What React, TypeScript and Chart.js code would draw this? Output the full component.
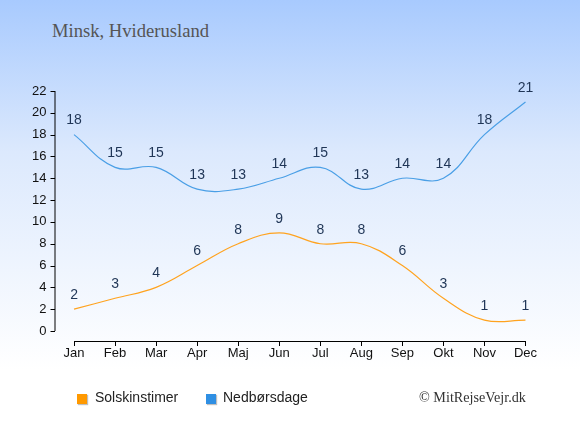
import { useEffect, useRef } from "react"
import { Chart, registerables } from "chart.js"

Chart.register(...registerables)

const months = ["Jan", "Feb", "Mar", "Apr", "Maj", "Jun", "Jul", "Aug", "Sep", "Okt", "Nov", "Dec"]
const sunHours = [2, 3, 4, 6, 8, 9, 8, 8, 6, 3, 1, 1]
const rainDays = [18, 15, 15, 13, 13, 14, 15, 13, 14, 14, 18, 21]
const yTicks = [0, 2, 4, 6, 8, 10, 12, 14, 16, 18, 20, 22]

const orange = "#ffa31f"
const blue = "#4a9fe6"

// axis lines, tick marks and value labels
const decorPlugin = {
  id: "decor",
  afterDraw(chart: any) {
    const { ctx, scales } = chart
    const x = scales.x
    const y = scales.y
    const axisX = chart.chartArea.left + 1
    const axisY = y.getPixelForValue(0) + 10
    ctx.save()
    ctx.strokeStyle = "#000"
    ctx.lineWidth = 1
    ctx.beginPath()
    ctx.moveTo(axisX + 0.5, y.getPixelForValue(22))
    ctx.lineTo(axisX + 0.5, y.getPixelForValue(0))
    yTicks.forEach((v) => {
      const py = Math.round(y.getPixelForValue(v)) + 0.5
      ctx.moveTo(axisX - 4, py)
      ctx.lineTo(axisX + 0.5, py)
    })
    const x0 = x.getPixelForValue(0)
    const x1 = x.getPixelForValue(months.length - 1)
    ctx.moveTo(x0, axisY + 0.5)
    ctx.lineTo(x1, axisY + 0.5)
    months.forEach((_, i) => {
      const px = Math.round(x.getPixelForValue(i)) + 0.5
      ctx.moveTo(px, axisY)
      ctx.lineTo(px, axisY + 5)
    })
    ctx.stroke()

    ctx.fillStyle = "#1f3556"
    ctx.font = "14px 'Liberation Sans', Arial, sans-serif"
    ctx.textAlign = "center"
    ctx.textBaseline = "bottom"
    chart.data.datasets.forEach((ds: any, di: number) => {
      const meta = chart.getDatasetMeta(di)
      meta.data.forEach((pt: any, i: number) => {
        ctx.fillText(String(ds.data[i]), pt.x, pt.y - 7)
      })
    })
    ctx.restore()
  },
}

export default function App() {
  const chartRef = useRef<HTMLCanvasElement>(null)
  const chartInstance = useRef<Chart | null>(null)

  useEffect(() => {
    document.body.style.margin = "0"
    if (chartRef.current) {
      const ctx = chartRef.current.getContext("2d")
      if (ctx) {
        if (chartInstance.current) {
          chartInstance.current.destroy()
        }
        chartInstance.current = new Chart(ctx, {
          type: "line",
          data: {
            labels: months,
            datasets: [
              {
                label: "Solskinstimer",
                data: sunHours,
                borderColor: orange,
                backgroundColor: "transparent",
                borderWidth: 1.2,
                pointRadius: 0,
                tension: 0.4,
              },
              {
                label: "Nedbørsdage",
                data: rainDays,
                borderColor: blue,
                backgroundColor: "transparent",
                borderWidth: 1.2,
                pointRadius: 0,
                tension: 0.4,
              },
            ],
          },
          options: {
            responsive: false,
            animation: false,
            layout: { padding: { top: 91, right: 34, left: 0, bottom: 0 } },
            scales: {
              x: {
                offset: true,
                grid: { display: false, drawTicks: false },
                border: { display: false },
                ticks: {
                  color: "#111",
                  padding: 15,
                  font: { size: 13, family: "'Liberation Sans', Arial, sans-serif" },
                  maxRotation: 0,
                },
                afterFit: (scale: any) => {
                  scale.height = 104
                },
              },
              y: {
                min: 0,
                max: 22,
                grid: { display: false, drawTicks: false },
                border: { display: false },
                ticks: {
                  stepSize: 2,
                  color: "#111",
                  padding: 7,
                  font: { size: 13, family: "'Liberation Sans', Arial, sans-serif" },
                },
                afterFit: (scale: any) => {
                  scale.width = 53.5
                },
              },
            },
            plugins: {
              legend: { display: false },
              tooltip: { enabled: false },
            },
          },
          plugins: [decorPlugin],
        })
      }
    }
    return () => {
      if (chartInstance.current) {
        chartInstance.current.destroy()
        chartInstance.current = null
      }
    }
  }, [])

  const legendText = {
    position: "absolute" as const,
    top: 389,
    fontFamily: "'Liberation Sans', Arial, sans-serif",
    fontSize: 14,
    color: "#222",
  }
  const square = (left: number, color: string) => ({
    position: "absolute" as const,
    left,
    top: 394,
    width: 10,
    height: 10,
    background: color,
    boxShadow: "1px 1px 1px rgba(0,0,0,0.25)",
  })

  return (
    <div
      style={{
        position: "relative",
        width: 580,
        height: 435,
        background: "linear-gradient(to bottom, #a8cafe 0%, #dce9fd 35%, #ffffff 85%)",
        overflow: "hidden",
      }}
    >
      <div
        style={{
          position: "absolute",
          left: 52,
          top: 20,
          fontFamily: "'Liberation Serif', 'Times New Roman', serif",
          fontSize: 18.6,
          color: "#555",
        }}
      >
        Minsk, Hviderusland
      </div>
      <canvas ref={chartRef} width={580} height={435} style={{ position: "absolute", left: 0, top: 0 }}></canvas>
      <div style={square(77, "#ff9900")}></div>
      <div style={{ ...legendText, left: 95 }}>Solskinstimer</div>
      <div style={square(206, "#2f8fe3")}></div>
      <div style={{ ...legendText, left: 223 }}>Nedbørsdage</div>
      <div
        style={{
          position: "absolute",
          left: 419,
          top: 389,
          fontFamily: "'Liberation Serif', 'Times New Roman', serif",
          fontSize: 14.2,
          color: "#333",
        }}
      >
        © MitRejseVejr.dk
      </div>
    </div>
  )
}
